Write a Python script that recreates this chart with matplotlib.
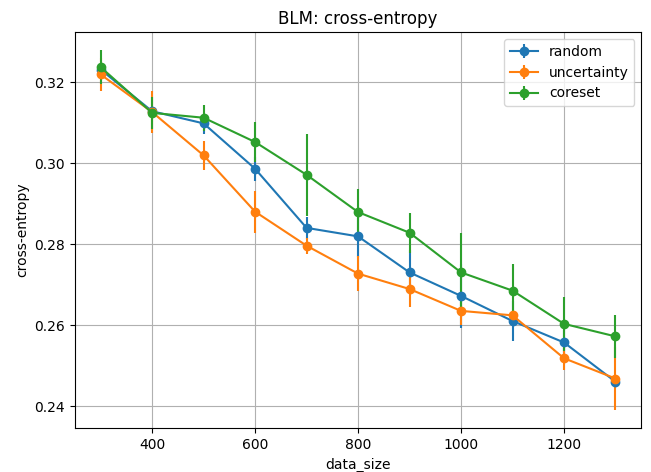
import matplotlib
matplotlib.use("Agg")
import matplotlib.pyplot as plt

data_size = [300, 400, 500, 600, 700, 800, 900, 1000, 1100, 1200, 1300]

random_mean = [0.3231, 0.3128, 0.3098, 0.2986, 0.2840, 0.2819, 0.2730, 0.2672, 0.2610, 0.2557, 0.2460]
random_err = [0.0010, 0.0010, 0.0025, 0.0030, 0.0027, 0.0050, 0.0055, 0.0080, 0.0050, 0.0030, 0.0015]

uncert_mean = [0.3219, 0.3126, 0.3019, 0.2880, 0.2796, 0.2727, 0.2689, 0.2635, 0.2624, 0.2518, 0.2468]
uncert_err = [0.0041, 0.0052, 0.0035, 0.0052, 0.0020, 0.0043, 0.0045, 0.0035, 0.0010, 0.0030, 0.0078]

coreset_mean = [0.3237, 0.3124, 0.3112, 0.3052, 0.2971, 0.2879, 0.2828, 0.2730, 0.2685, 0.2603, 0.2572]
coreset_err = [0.0042, 0.0039, 0.0032, 0.0050, 0.0101, 0.0057, 0.0049, 0.0097, 0.0065, 0.0067, 0.0054]

fig = plt.figure(figsize=(6.51, 4.72), dpi=100)
ax = fig.add_axes([0.115, 0.093, 0.870, 0.839])

ax.errorbar(data_size, random_mean, yerr=random_err, fmt='o-', label='random')
ax.errorbar(data_size, uncert_mean, yerr=uncert_err, fmt='o-', label='uncertainty')
ax.errorbar(data_size, coreset_mean, yerr=coreset_err, fmt='o-', label='coreset')

ax.set_title('BLM: cross-entropy')
ax.set_xlabel('data_size')
ax.set_ylabel('cross-entropy')
ax.grid(True)
ax.legend(loc='upper right')

fig.savefig('out.png', dpi=100)
